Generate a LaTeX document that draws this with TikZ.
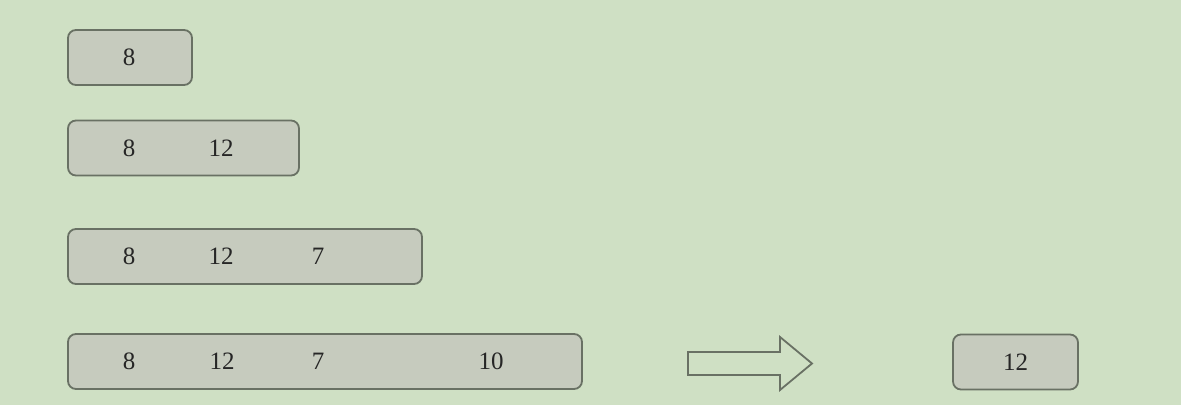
\documentclass[tikz,border=0pt]{standalone}
\usepackage{fontspec}
\setmainfont{Liberation Serif}
\usetikzlibrary{positioning}
\definecolor{bgreen}{RGB}{207,224,196}
\definecolor{cellgray}{RGB}{198,203,190}
\definecolor{edgegray}{RGB}{105,113,100}
\tikzset{
  seqbox/.style={draw=edgegray,fill=cellgray,line width=0.9pt,rounded corners=4pt,
    minimum height=27.5pt,inner sep=0pt},
  num/.style={inner sep=0pt,font=\fontsize{12.5}{14}\selectfont,text=black!85}
}
\begin{document}
\begin{tikzpicture}[x=0.5pt,y=-0.5pt]
\fill[bgreen] (0,0) rectangle (1181,405);
\useasboundingbox (0,0) rectangle (1181,405);
% growing prefixes
\node (s1) [seqbox,minimum width=62pt] at (130,57.5) {};
\node (s2) [seqbox,minimum width=115.5pt] at (183.5,148) {};
\node (s3) [seqbox,minimum width=177pt] at (245,256.5) {};
\node (s4) [seqbox,minimum width=257pt] at (325,361.5) {};
\node (a1) [num] at (129,57.5) {8};
\node (b1) [num] at (129,148) {8};
\node (b2) [num] at (221,148) {12};
\node (c1) [num] at (129,256.5) {8};
\node (c2) [num] at (221,256.5) {12};
\node (c3) [num] at (318,256.5) {7};
\node (d1) [num] at (129,361.5) {8};
\node (d2) [num] at (222,361.5) {12};
\node (d3) [num] at (318,361.5) {7};
\node (d4) [num] at (491,361.5) {10};
% hollow arrow and result
\draw[edgegray,line width=0.9pt,fill=bgreen] (688,352) -- (780,352) -- (780,337) -- (812,363.5)
  -- (780,390) -- (780,375) -- (688,375) -- cycle;
\node (res) [seqbox,minimum width=62.5pt] at (1015.5,362) {};
\node (r1) [num] at (1015.5,362) {12};
\end{tikzpicture}
\end{document}
